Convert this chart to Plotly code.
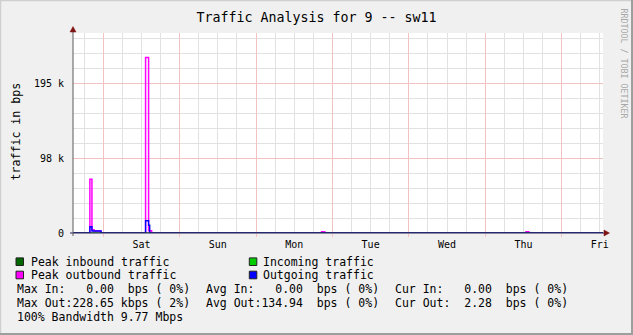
import plotly.graph_objects as go

# ---------------- data (time in hours, 0 = Saturday 00:00) ----------------
times = [-9.5, -4.2, -3.55, -2.9, -0.7, 13.3, 14.25, 14.6, 15.2, 68.6, 69.6, 132.8, 133.7, 157.0]
peak_out = [0, 69900, 4300, 2600, 0, 228650, 3000, 3000, 0, 1700, 0, 1700, 0, 0]
avg_out = [0, 8200, 2600, 2600, 0, 16000, 10000, 0, 0, 0, 0, 0, 0, 0]
avg_in = [0, 0, 0, 0, 0, 0, 0, 0, 0, 0, 0, 0, 0, 0]
peak_in = [0, 0, 0, 0, 0, 0, 0, 0, 0, 0, 0, 0, 0, 0]

day_ticks = [12, 36, 60, 84, 108, 132, 156]
day_labels = ["Sat", "Sun", "Mon", "Tue", "Wed", "Thu", "Fri"]
midnights = [0, 24, 48, 72, 96, 120, 144]
y_ticks = [0, 97656.25, 195312.5]
y_labels = ["0", "98 k", "195 k"]

legend_rows = [
    ("Peak inbound traffic", "#006600", "Incoming traffic", "#00cc00"),
    ("Peak outbound traffic", "#ff00ff", "Outgoing traffic", "#0000ff"),
]
stat_rows = [
    ["Max In:   0.00  bps ( 0%)", "Avg In:   0.00  bps ( 0%)", "Cur In:   0.00  bps ( 0%)"],
    ["Max Out:228.65 kbps ( 2%)", "Avg Out:134.94  bps ( 0%)", "Cur Out:  2.28  bps ( 0%)"],
    ["100% Bandwidth 9.77 Mbps"],
]

# ---------------- layout geometry ----------------
W, H = 633, 335
L, R, T, B = 73, 30, 33, 102
PW, PH = W - L - R, H - T - B
FONT = "DejaVu Sans Mono"


def px(x):
    return (x - L) / PW


def py(y):
    return (H - B - y) / PH


MINOR = "#e1e1e1"
MAJOR = "#f2c2c2"

fig = go.Figure()
fig.add_trace(go.Scatter(x=times, y=avg_in, mode="lines", line=dict(color="#00cc00", width=1, shape="hv"),
                         fill="tozeroy", fillcolor="#00cc00", hoverinfo="skip", showlegend=False))
fig.add_trace(go.Scatter(x=times, y=peak_in, mode="lines", line=dict(color="#006600", width=1, shape="hv"),
                         hoverinfo="skip", showlegend=False, xaxis="x2"))
fig.add_trace(go.Scatter(x=times, y=peak_out, mode="lines", line=dict(color="#ff00ff", width=1.5, shape="hv"),
                         hoverinfo="skip", showlegend=False))
fig.add_trace(go.Scatter(x=times, y=avg_out, mode="lines", line=dict(color="#0000ff", width=1.4, shape="hv"),
                         hoverinfo="skip", showlegend=False))

xr = [-9.5, 157.0]
fig.update_layout(
    width=W, height=H,
    margin=dict(l=L, r=R, t=T, b=B, pad=0),
    paper_bgcolor="#f0f0f0", plot_bgcolor="#ffffff",
    font=dict(family=FONT, size=10, color="#000000"),
    showlegend=False,
    title=dict(text="Traffic Analysis for 9 -- sw11", x=0.5, xref="container", xanchor="center",
               y=1 - 17.5 / H, yref="container", yanchor="middle",
               font=dict(family=FONT, size=13.3, color="#000000")),
    xaxis=dict(range=xr, tickmode="array", tickvals=day_ticks, ticktext=day_labels,
               showgrid=True, gridcolor=MINOR, gridwidth=1, zeroline=False, showline=False,
               ticks="outside", ticklen=2, tickcolor="rgba(0,0,0,0)",
               tickfont=dict(family=FONT, size=10),
               minor=dict(tickmode="linear", tick0=0, dtick=6, showgrid=True, gridcolor=MINOR, gridwidth=1)),
    xaxis2=dict(range=xr, overlaying="x", anchor="y", side="bottom", tickmode="array", tickvals=midnights,
                showticklabels=False, showgrid=True, gridcolor=MAJOR, gridwidth=1, zeroline=False,
                ticks="outside", ticklen=3, tickcolor=MAJOR, showline=False),
    yaxis=dict(range=[0, 260416.67], tickmode="array", tickvals=y_ticks, ticktext=y_labels,
               showgrid=True, gridcolor=MAJOR, gridwidth=1, zeroline=False, showline=False,
               ticks="outside", ticklen=6, tickcolor="rgba(0,0,0,0)",
               tickfont=dict(family=FONT, size=10),
               minor=dict(tickmode="linear", tick0=0, dtick=19531.25, showgrid=True, gridcolor=MINOR, gridwidth=1)),
)

shapes = []
# axes with arrows
shapes.append(dict(type="line", xref="paper", yref="paper", x0=px(70), x1=px(604), y0=py(233), y1=py(233),
                   line=dict(color="#2b1d5c", width=1), layer="above"))
shapes.append(dict(type="line", xref="paper", yref="paper", x0=px(73), x1=px(73), y0=py(236), y1=py(32),
                   line=dict(color="#5a5a5a", width=1), layer="above"))
shapes.append(dict(type="path", xref="paper", yref="paper",
                   path=f"M {px(604)} {py(230)} L {px(609.5)} {py(233)} L {px(604)} {py(236)} Z",
                   fillcolor="#7f1414", line=dict(color="#7f1414", width=0.5), layer="above"))
shapes.append(dict(type="path", xref="paper", yref="paper",
                   path=f"M {px(70)} {py(32)} L {px(73)} {py(26.5)} L {px(76)} {py(32)} Z",
                   fillcolor="#7f1414", line=dict(color="#7f1414", width=0.5), layer="above"))
# 3D frame
shapes.append(dict(type="line", xref="paper", yref="paper", x0=px(0), x1=px(W), y0=py(0.5), y1=py(0.5),
                   line=dict(color="#cfcfcf", width=1.5)))
shapes.append(dict(type="line", xref="paper", yref="paper", x0=px(0.5), x1=px(0.5), y0=py(0), y1=py(H),
                   line=dict(color="#cfcfcf", width=1.5)))
shapes.append(dict(type="line", xref="paper", yref="paper", x0=px(0), x1=px(W), y0=py(H - 1), y1=py(H - 1),
                   line=dict(color="#9e9e9e", width=2)))
shapes.append(dict(type="line", xref="paper", yref="paper", x0=px(W - 1), x1=px(W - 1), y0=py(0), y1=py(H),
                   line=dict(color="#9e9e9e", width=2)))

annotations = []
# y axis title
annotations.append(dict(text="traffic in bps", xref="paper", yref="paper", x=px(15.5), y=py(132),
                        showarrow=False, textangle=-90, font=dict(family=FONT, size=11.6),
                        xanchor="center", yanchor="middle"))
# watermark
annotations.append(dict(text="RRDTOOL / TOBI OETIKER", xref="paper", yref="paper", x=px(623.5), y=py(63),
                        showarrow=False, textangle=90, font=dict(family=FONT, size=8.3, color="#a8a8a8"),
                        xanchor="center", yanchor="middle"))

LEG_FONT = dict(family=FONT, size=11.5, color="#000000")
row_y = [261.7, 275.0]
for (t1, c1, t2, c2), yy in zip(legend_rows, row_y):
    for sx, tx, txt, col in ((16, 29.5, t1, c1), (249.3, 262.3, t2, c2)):
        shapes.append(dict(type="rect", xref="paper", yref="paper", x0=px(sx), x1=px(sx + 7.5),
                           y0=py(yy - 3.8), y1=py(yy + 3.8), fillcolor=col, line=dict(color="#222222", width=1)))
        annotations.append(dict(text=txt.replace(" ", "\u00a0"), xref="paper", yref="paper", x=px(tx), y=py(yy),
                                showarrow=False, xanchor="left", yanchor="middle", font=LEG_FONT, borderpad=0))

stat_y = [289.3, 303.3, 317.3]
col_x = [15.7, 205.0, 394.3]
for row, yy in zip(stat_rows, stat_y):
    for txt, xx in zip(row, col_x):
        annotations.append(dict(text=txt.replace(" ", "\u00a0"), xref="paper", yref="paper", x=px(xx), y=py(yy),
                                showarrow=False, xanchor="left", yanchor="middle", font=LEG_FONT, borderpad=0))

fig.update_layout(shapes=shapes, annotations=annotations)
fig.write_html("out.html")
